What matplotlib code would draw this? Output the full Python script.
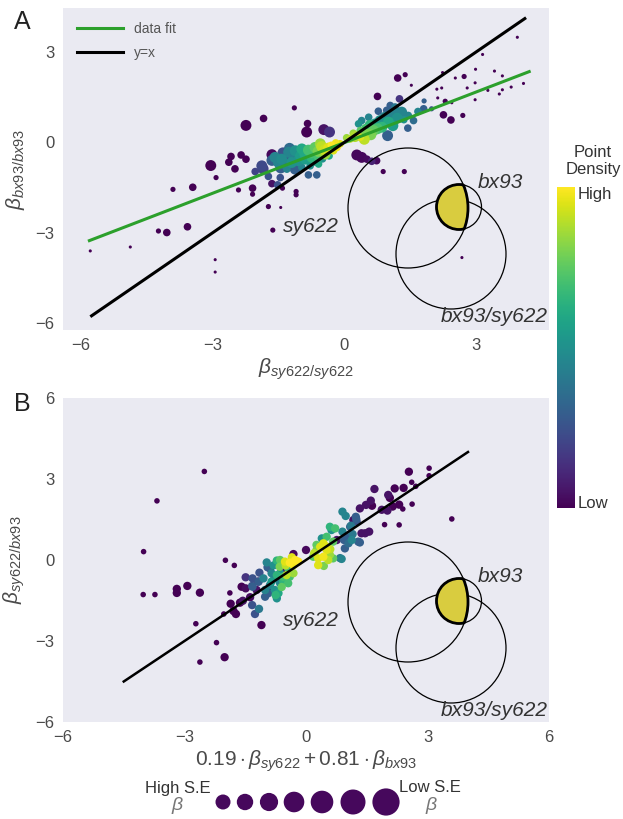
import numpy as np
import matplotlib.pyplot as plt
import matplotlib as mpl
from matplotlib.patches import Circle

plt.rcParams['font.family'] = ['Liberation Sans', 'DejaVu Sans']
plt.rcParams['mathtext.fontset'] = 'custom'
plt.rcParams['mathtext.rm'] = 'Liberation Sans'
plt.rcParams['mathtext.it'] = 'Liberation Sans:italic'

# ---- panel A points: x, y, density (0..1), S.E. class (1 = high S.E, 4 = low S.E)
a_pts = [
    (-5.78, -3.6, 0, 1), (-4.87, -3.47, 0, 1), (-4.23, -2.94, 0, 2), (-4.04, -2.99, 0, 3),
    (-3.57, -2.8, 0, 3), (-3.9, -1.56, 0, 2), (-3.45, -1.49, 0, 3), (-2.94, -3.89, 0, 1),
    (-2.94, -4.3, 0, 1), (-3.04, -0.77, 0, 4), (-2.92, -1.17, 0, 2), (-2.58, -0.47, 0, 3),
    (-2.63, -0.66, 0, 3), (-2.49, -0.88, 0, 3), (-2.35, -0.42, 0, 3), (-2.24, -0.56, 0, 3),
    (-2.24, 0.56, 0, 4), (-2.41, -1.58, 0, 2), (-2.09, -1.52, 0, 3), (-2.09, -1.72, 0, 2),
    (-1.84, 0.79, 0, 3), (-1.73, -2.13, 0, 2), (-1.45, -2.16, 0, 1), (-1.63, -2.91, 0, 2),
    (-1.41, -1.52, 0, 2), (-1.1, -1.63, 0, 2), (-1.1, -1.74, 0, 2), (-1.14, 1.14, 0, 2),
    (-0.86, 0.34, 0, 4), (-0.84, 0.62, 0, 3), (-0.47, 0.42, 0.05, 4), (-0.34, 0.34, 0.15, 4),
    (-1.65, -0.41, 0.02, 4), (-2.03, -0.97, 0.2, 3), (-1.88, -0.78, 0.22, 4), (-1.85, -0.88, 0.2, 4),
    (-1.52, -1.41, 0.25, 3), (-1.73, -1.13, 0.25, 3), (-1.46, -1.17, 0.25, 3), (-1.65, -1.37, 0.05, 3),
    (-1.58, -0.5, 0.45, 4), (-1.5, -0.67, 0.45, 4), (-1.43, -0.56, 0.48, 4), (-1.35, -0.72, 0.4, 4),
    (-1.31, -0.89, 0.45, 3), (-1.27, -0.33, 0.45, 4), (-1.2, -0.67, 0.5, 4), (-1.12, -0.28, 0.5, 4),
    (-1.12, -0.89, 0.3, 4), (-1.05, -0.61, 0.5, 4), (-0.97, -0.22, 0.6, 4), (-0.97, -0.83, 0.45, 3),
    (-0.89, -0.56, 0.55, 4), (-0.82, -0.26, 0.7, 4), (-0.82, -1.08, 0.3, 3), (-0.78, -0.78, 0.5, 3),
    (-0.74, -0.5, 0.65, 4), (-0.67, -0.17, 0.75, 4), (-0.63, -1.08, 0.3, 3), (-0.59, -0.44, 0.7, 4),
    (-0.59, -0.72, 0.6, 3), (-0.52, -0.14, 0.9, 4), (-0.44, -0.39, 0.85, 4), (-0.36, -0.19, 0.95, 4),
    (-0.25, -0.28, 0.95, 3), (-0.17, -0.17, 0.98, 3), (-0.3, -0.1, 1.0, 3), (-0.1, -0.05, 0.95, 3),
    (-0.45, -0.25, 0.92, 4), (-0.6, -0.3, 0.8, 4), (-0.7, -0.6, 0.55, 4), (-1.0, -0.45, 0.55, 4),
    (-1.3, -0.5, 0.3, 4), (-1.4, -0.35, 0.25, 4), (-1.65, -0.6, 0.3, 4), (-0.5, -0.55, 0.5, 3),
    (-0.35, -0.45, 0.6, 3), (-0.9, -0.4, 0.6, 4), (-0.75, -0.35, 0.7, 4), (-1.15, -0.5, 0.45, 4),
    (-1.45, -0.85, 0.3, 4), (-1.25, -0.2, 0.35, 4), (-0.55, -0.05, 0.85, 4), (-0.2, -0.02, 0.98, 3),
    (0.13, 0.11, 0.9, 3), (0.24, 0.19, 0.88, 4), (0.36, 0.17, 0.95, 3), (0.36, 0.39, 0.75, 3),
    (0.47, 0.48, 0.7, 3), (0.51, 0.26, 0.8, 4), (0.58, 0.56, 0.65, 4), (0.66, 0.39, 0.75, 4),
    (0.7, 0.61, 0.55, 4), (0.81, 0.72, 0.5, 4), (0.85, 0.5, 0.65, 4), (0.92, 0.83, 0.45, 4),
    (1.0, 0.67, 0.6, 4), (1.08, 0.94, 0.45, 4), (0.32, 0.61, 0.5, 3), (0.39, 0.72, 0.45, 3),
    (0.55, 0.83, 0.45, 3), (0.77, 1.03, 0.3, 3), (0.96, 1.06, 0.3, 3), (1.15, 1.17, 0.4, 3),
    (1.04, 1.22, 0.3, 3), (1.15, 1.0, 0.45, 3), (1.3, 1.0, 0.45, 4), (1.45, 0.89, 0.45, 3),
    (1.57, 0.72, 0.35, 3), (1.67, 1.02, 0.45, 3), (1.8, 1.11, 0.3, 3), (1.98, 1.11, 0.25, 2),
    (1.81, 1.37, 0.3, 2), (0.98, 0.22, 0.3, 4), (1.44, 0.47, 0.3, 3), (1.25, 1.44, 0.15, 3),
    (1.2, 0.8, 0.5, 4), (1.35, 0.75, 0.5, 3), (0.2, 0.3, 0.85, 3), (0.05, 0.15, 0.85, 3),
    (0.6, 0.25, 0.8, 4), (0.75, 0.45, 0.7, 4), (0.45, 0.1, 0.9, 4), (1.1, 0.55, 0.55, 4),
    (0.28, -0.42, 0.02, 4), (0.39, -0.5, 0.02, 4), (0.51, -0.56, 0.03, 3), (0.62, -0.63, 0.1, 3),
    (0.73, -0.61, 0.03, 3), (0.88, -0.97, 0, 2), (1.36, -0.97, 0, 2),
    (0.75, 1.52, 0, 3), (1.21, 2.13, 0, 3), (1.38, 2.24, 0, 2), (1.52, 1.89, 0, 1),
    (2.12, 1.47, 0, 1), (2.29, 1.36, 0, 2), (2.44, 1.31, 0, 1), (2.25, 0.91, 0, 3),
    (2.42, 0.74, 0, 3), (2.69, 0.89, 0, 2), (2.23, 2.31, 0, 1), (2.1, 1.76, 0, 1),
    (2.21, 1.8, 0, 1), (2.52, 2.13, 0, 1), (2.79, 1.8, 0, 1), (2.97, 1.97, 0, 1),
    (2.98, 2.42, 0, 1), (3.14, 2.91, 0, 1), (2.72, 2.18, 0, 2), (3.41, 2.36, 0, 1),
    (3.59, 2.2, 0, 1), (3.26, 1.72, 0, 1), (2.97, 1.41, 0, 1), (3.52, 1.6, 0, 1),
    (3.59, 1.74, 0, 1), (3.79, 1.83, 0, 1), (4.07, 1.95, 0, 1), (3.93, 3.48, 0, 1),
    (2.67, -3.82, 0, 1),
]

# ---- panel B points
b_pts = [
    (-2.51, 3.28, 0, 2), (-3.68, 2.19, 0, 2), (-4.01, 0.31, 0, 2), (-4.02, -1.28, 0, 2),
    (-3.73, -1.28, 0, 2), (-3.19, -1.07, 0, 3), (-3.19, -1.22, 0, 3), (-2.93, -0.96, 0, 3),
    (-2.62, -1.21, 0, 3), (-2.72, -2.36, 0, 2), (-2.21, -3.06, 0, 2), (-2.01, -3.6, 0, 3),
    (-2.62, -3.78, 0, 2), (-1.99, -0.01, 0, 2), (-1.77, -0.2, 0, 2), (-1.88, -1.22, 0, 2),
    (-1.86, -1.62, 0, 3), (-2.03, -2.0, 0, 2), (-1.79, -1.89, 0, 3), (-1.73, -2.0, 0, 3),
    (-1.63, -1.58, 0, 3), (-1.56, -1.51, 0.05, 3), (-1.38, -1.38, 0.03, 3), (-1.59, -0.99, 0, 3),
    (-1.49, -1.05, 0.03, 3), (-1.49, -0.64, 0.15, 3), (-1.32, -0.68, 0.25, 3), (-1.33, -0.96, 0.25, 3),
    (-1.22, -1.11, 0.05, 3), (-1.18, -0.8, 0.08, 3), (-1.33, -1.67, 0.25, 3), (-1.26, -2.0, 0.25, 3),
    (-1.16, -1.81, 0.4, 3), (-1.15, -0.47, 0.25, 3), (-1.1, -2.41, 0, 3),
    (-0.97, -0.09, 0.45, 3), (-0.95, -0.27, 0.3, 3), (-0.89, -0.31, 0.05, 3), (-0.85, -0.49, 0.45, 3),
    (-0.72, -0.02, 0.65, 3), (-0.64, 0.0, 0.75, 3), (-0.52, -0.06, 0.95, 3), (-0.31, 0.22, 0.02, 3),
    (-0.27, 0.0, 1.0, 3), (-0.19, -0.06, 1.0, 3), (-0.31, -0.19, 0.98, 3), (-0.44, -0.31, 0.7, 3),
    (-0.56, -0.37, 0.05, 3), (-0.64, -0.49, 0.5, 3), (-0.72, -0.56, 0.65, 3), (-0.78, -0.68, 0.45, 3),
    (-0.68, -0.68, 0.05, 3), (-0.56, -0.62, 0.7, 3), (-0.48, -0.56, 0.9, 3), (-0.4, -0.62, 0.7, 3),
    (-0.31, -0.49, 0.85, 3), (-0.56, -0.8, 0.65, 3), (-0.64, -0.86, 0.45, 3), (-0.44, -0.86, 0.7, 3),
    (-0.77, -1.11, 0.5, 3), (-0.68, -1.23, 0.6, 3), (-0.75, -1.3, 0.65, 3), (-0.89, -0.93, 0.45, 3),
    (-1.05, -0.68, 0.45, 3), (-1.01, -1.11, 0.45, 3), (-0.93, -1.23, 0.3, 3), (-0.91, -1.05, 0.05, 3),
    (-1.32, -0.99, 0.3, 3), (-1.17, -0.8, 0.3, 3), (-1.01, -1.36, 0.3, 3), (-0.72, -1.42, 0.5, 3),
    (-0.6, -1.0, 0.75, 3), (-0.5, -0.2, 0.9, 3), (-0.4, -0.1, 1.0, 3), (-0.35, 0.1, 0.95, 3),
    (-0.8, -0.2, 0.5, 3), (-0.85, -0.8, 0.55, 3), (-0.65, -0.25, 0.8, 3),
    (0.0, 0.37, 0.02, 3), (0.18, 0.12, 0.75, 3), (0.26, 0.37, 0.8, 3), (0.3, 0.06, 0.95, 3),
    (0.3, -0.19, 0.95, 3), (0.44, -0.22, 0.8, 3), (0.35, 0.49, 0.95, 3), (0.43, 0.62, 0.95, 3),
    (0.51, 0.37, 0.95, 3), (0.59, 0.19, 0.85, 3), (0.55, 0.0, 0.9, 3), (0.67, 0.06, 0.75, 3),
    (0.43, 0.12, 0.98, 3), (0.51, 0.86, 0.7, 3), (0.63, 1.11, 0.5, 3), (0.59, 1.23, 0.65, 3),
    (0.72, 1.17, 0.7, 3), (0.67, 0.68, 0.75, 3), (0.76, 0.74, 0.05, 3), (0.39, 0.8, 0.5, 3),
    (0.26, 0.56, 0.75, 3), (0.9, 1.05, 0.45, 3), (0.94, 0.74, 0.3, 3), (0.88, 0.04, 0.45, 3),
    (1.0, 0.86, 0.3, 3), (0.96, 0.43, 0.3, 3), (1.05, 0.62, 0.35, 3), (1.09, 1.23, 0.3, 3),
    (1.17, 1.48, 0.05, 3), (1.25, 1.42, 0.25, 3), (1.23, 1.6, 0.3, 3), (1.33, 1.91, 0.05, 3),
    (1.13, 0.74, 0.45, 3), (1.33, 0.65, 0.3, 3), (1.37, 0.99, 0.05, 3), (1.46, 0.99, 0.05, 3),
    (0.9, 1.79, 0.45, 3), (0.98, 1.63, 0.45, 3), (1.48, 2.04, 0.05, 3), (1.56, 1.05, 0.05, 3),
    (0.2, 0.25, 0.9, 3), (0.5, 0.5, 0.95, 3), (0.6, 0.4, 0.9, 3),
    (2.54, 3.27, 0, 3), (3.04, 3.4, 0, 2), (3.04, 3.12, 0, 2), (2.61, 2.88, 0, 2),
    (2.71, 2.73, 0, 2), (2.41, 2.67, 0, 3), (2.19, 2.65, 0, 3), (1.69, 2.63, 0.05, 3),
    (2.03, 2.41, 0.05, 3), (2.07, 2.3, 0, 3), (2.3, 2.05, 0, 3), (2.62, 2.07, 0, 2),
    (2.39, 1.89, 0, 2), (2.14, 1.98, 0, 3), (2.01, 1.83, 0.05, 3), (1.87, 1.86, 0.05, 3),
    (1.6, 2.2, 0.05, 3), (1.63, 2.01, 0, 3), (1.94, 1.31, 0, 2), (2.3, 1.3, 0, 2),
    (3.6, 1.52, 0, 2), (1.29, 0.68, 0.3, 3), (0.84, 0.07, 0.4, 3), (1.24, 1.52, 0.3, 3),
    (1.11, 1.27, 0.4, 3), (1.15, 0.96, 0.4, 3),
]

# fitted line and identity range
fit_slope, fit_intercept = 0.56, -0.01
fit_range = (-5.8, 4.2)
a_ident_range = (-5.75, 4.1)
b_ident_range = (-4.5, 4.0)

a_ticks = [-6, -3, 0, 3]
b_ticks = [-6, -3, 0, 3, 6]

se_size_a = {1: 5, 2: 14, 3: 30, 4: 62}
se_size_b = {1: 5, 2: 16, 3: 36, 4: 62}
tick_col = '#4a4a4a'
bg = '#eaeaf2'

W, H = 623, 819
fig = plt.figure(figsize=(W / 100, H / 100), dpi=100)


def px_axes(x0, y0, x1, y1):
    return fig.add_axes([x0 / W, 1 - y1 / H, (x1 - x0) / W, (y1 - y0) / H])


def style(ax, ticks):
    ax.set_facecolor(bg)
    for s in ax.spines.values():
        s.set_visible(False)
    ax.set_xticks(ticks)
    ax.set_yticks(ticks)
    ax.tick_params(length=0, labelsize=12, labelcolor=tick_col, pad=6)


def scatter(ax, pts, se_size):
    arr = np.array(pts, dtype=float)
    order = np.argsort(arr[:, 2], kind='stable')
    arr = arr[order]
    sizes = [se_size[int(c)] for c in arr[:, 3]]
    ax.scatter(arr[:, 0], arr[:, 1], c=arr[:, 2], s=sizes, cmap='viridis',
               vmin=0, vmax=1, linewidths=0, zorder=2)


axA = px_axes(63, 8, 549, 330)
style(axA, a_ticks)
scatter(axA, a_pts, se_size_a)
fx = np.array(fit_range)
axA.plot(fx, fit_slope * fx + fit_intercept, color='#2ca02c', lw=2.2, label='data fit', zorder=3)
ix = np.array(a_ident_range)
axA.plot(ix, ix, color='black', lw=2.2, label='y=x', zorder=3)
axA.set_xlim(-6.4, 4.65)
axA.set_ylim(-6.22, 4.45)
axA.set_xlabel(r'$\beta_{sy622/sy622}$', fontsize=15, color=tick_col, labelpad=2)
axA.set_ylabel(r'$\beta_{bx93/bx93}$', fontsize=15, color=tick_col, labelpad=6)
leg = axA.legend(loc='upper left', frameon=False, fontsize=10, handlelength=3.3,
                 borderaxespad=0.6, labelspacing=0.7)
for t in leg.get_texts():
    t.set_color('#555555')

axB = px_axes(63, 398, 549, 722)
style(axB, b_ticks)
scatter(axB, b_pts, se_size_b)
ix = np.array(b_ident_range)
axB.plot(ix, ix, color='black', lw=1.8, zorder=3)
axB.set_xlim(-6, 6)
axB.set_ylim(-6, 6)
axB.set_xlabel(r'$0.19 \cdot \beta_{sy622} + 0.81 \cdot \beta_{bx93}$', fontsize=15,
               color=tick_col, labelpad=2)
axB.set_ylabel(r'$\beta_{sy622/bx93}$', fontsize=15, color=tick_col, labelpad=6)

# colorbar
cax = px_axes(557, 187, 575, 508)
cb = mpl.colorbar.ColorbarBase(cax, cmap='viridis', norm=mpl.colors.Normalize(0, 1))
cb.outline.set_visible(False)
cb.set_ticks([0.02, 0.98])
cb.set_ticklabels(['Low', 'High'])
cax.tick_params(length=0, labelsize=12, labelcolor='#333333', pad=2)

# overlay in pixel coordinates for venns, letters and size legend
ov = fig.add_axes([0, 0, 1, 1])
ov.set_xlim(0, W)
ov.set_ylim(H, 0)
ov.axis('off')
ov.patch.set_alpha(0)

ov.text(593, 161, 'Point\nDensity', ha='center', va='center', fontsize=12,
        color='#333333', linespacing=1.1)
ov.text(22, 22, 'A', ha='center', va='center', fontsize=18, color='#222222')
ov.text(22, 404, 'B', ha='center', va='center', fontsize=18, color='#222222')

venn_yellow = '#d9cc3f'
for dy in (0, 394):
    big = Circle((408, 208 + dy), 60, fill=False, ec='black', lw=0.9)
    third = Circle((451, 254 + dy), 55, fill=False, ec='black', lw=0.9)
    small = Circle((459, 207 + dy), 22.5, fill=False, ec='black', lw=0.9)
    for c in (big, third, small):
        ov.add_patch(c)
    clip_big = Circle((408, 208 + dy), 60, transform=ov.transData)
    fill = Circle((459, 207 + dy), 22.5, fc=venn_yellow, ec='none')
    ov.add_patch(fill)
    fill.set_clip_path(clip_big)
    edge1 = Circle((459, 207 + dy), 22.5, fill=False, ec='black', lw=2)
    ov.add_patch(edge1)
    edge1.set_clip_path(Circle((408, 208 + dy), 61, transform=ov.transData))
    edge2 = Circle((408, 208 + dy), 60, fill=False, ec='black', lw=2)
    ov.add_patch(edge2)
    edge2.set_clip_path(Circle((459, 207 + dy), 23.5, transform=ov.transData))
    ov.text(500, 182 + dy, 'bx93', style='italic', fontsize=15, color='#333333',
            ha='center', va='center')
    ov.text(311, 227 + dy, 'sy622', style='italic', fontsize=15, color='#333333',
            ha='center', va='center')
    ov.text(494, 317 + dy, 'bx93/sy622', style='italic', fontsize=15, color='#333333',
            ha='center', va='center')

# S.E size legend
leg_x = [223, 245, 269, 294, 322, 353, 386]
leg_r = [7.5, 8.2, 9.1, 10.3, 11.3, 12.5, 13.6]
leg_col = mpl.colormaps['viridis'](0.02)
for x, r in zip(leg_x, leg_r):
    ov.add_patch(Circle((x, 802), r, fc=leg_col, ec='none'))
ov.text(178, 788, 'High S.E', ha='center', va='center', fontsize=12, color='#333333')
ov.text(178, 806, r'$\beta$', ha='center', va='center', fontsize=14, color='#777777')
ov.text(430, 788, 'Low S.E', ha='center', va='center', fontsize=12, color='#333333')
ov.text(432, 806, r'$\beta$', ha='center', va='center', fontsize=14, color='#777777')

fig.savefig('out.png', dpi=100)
